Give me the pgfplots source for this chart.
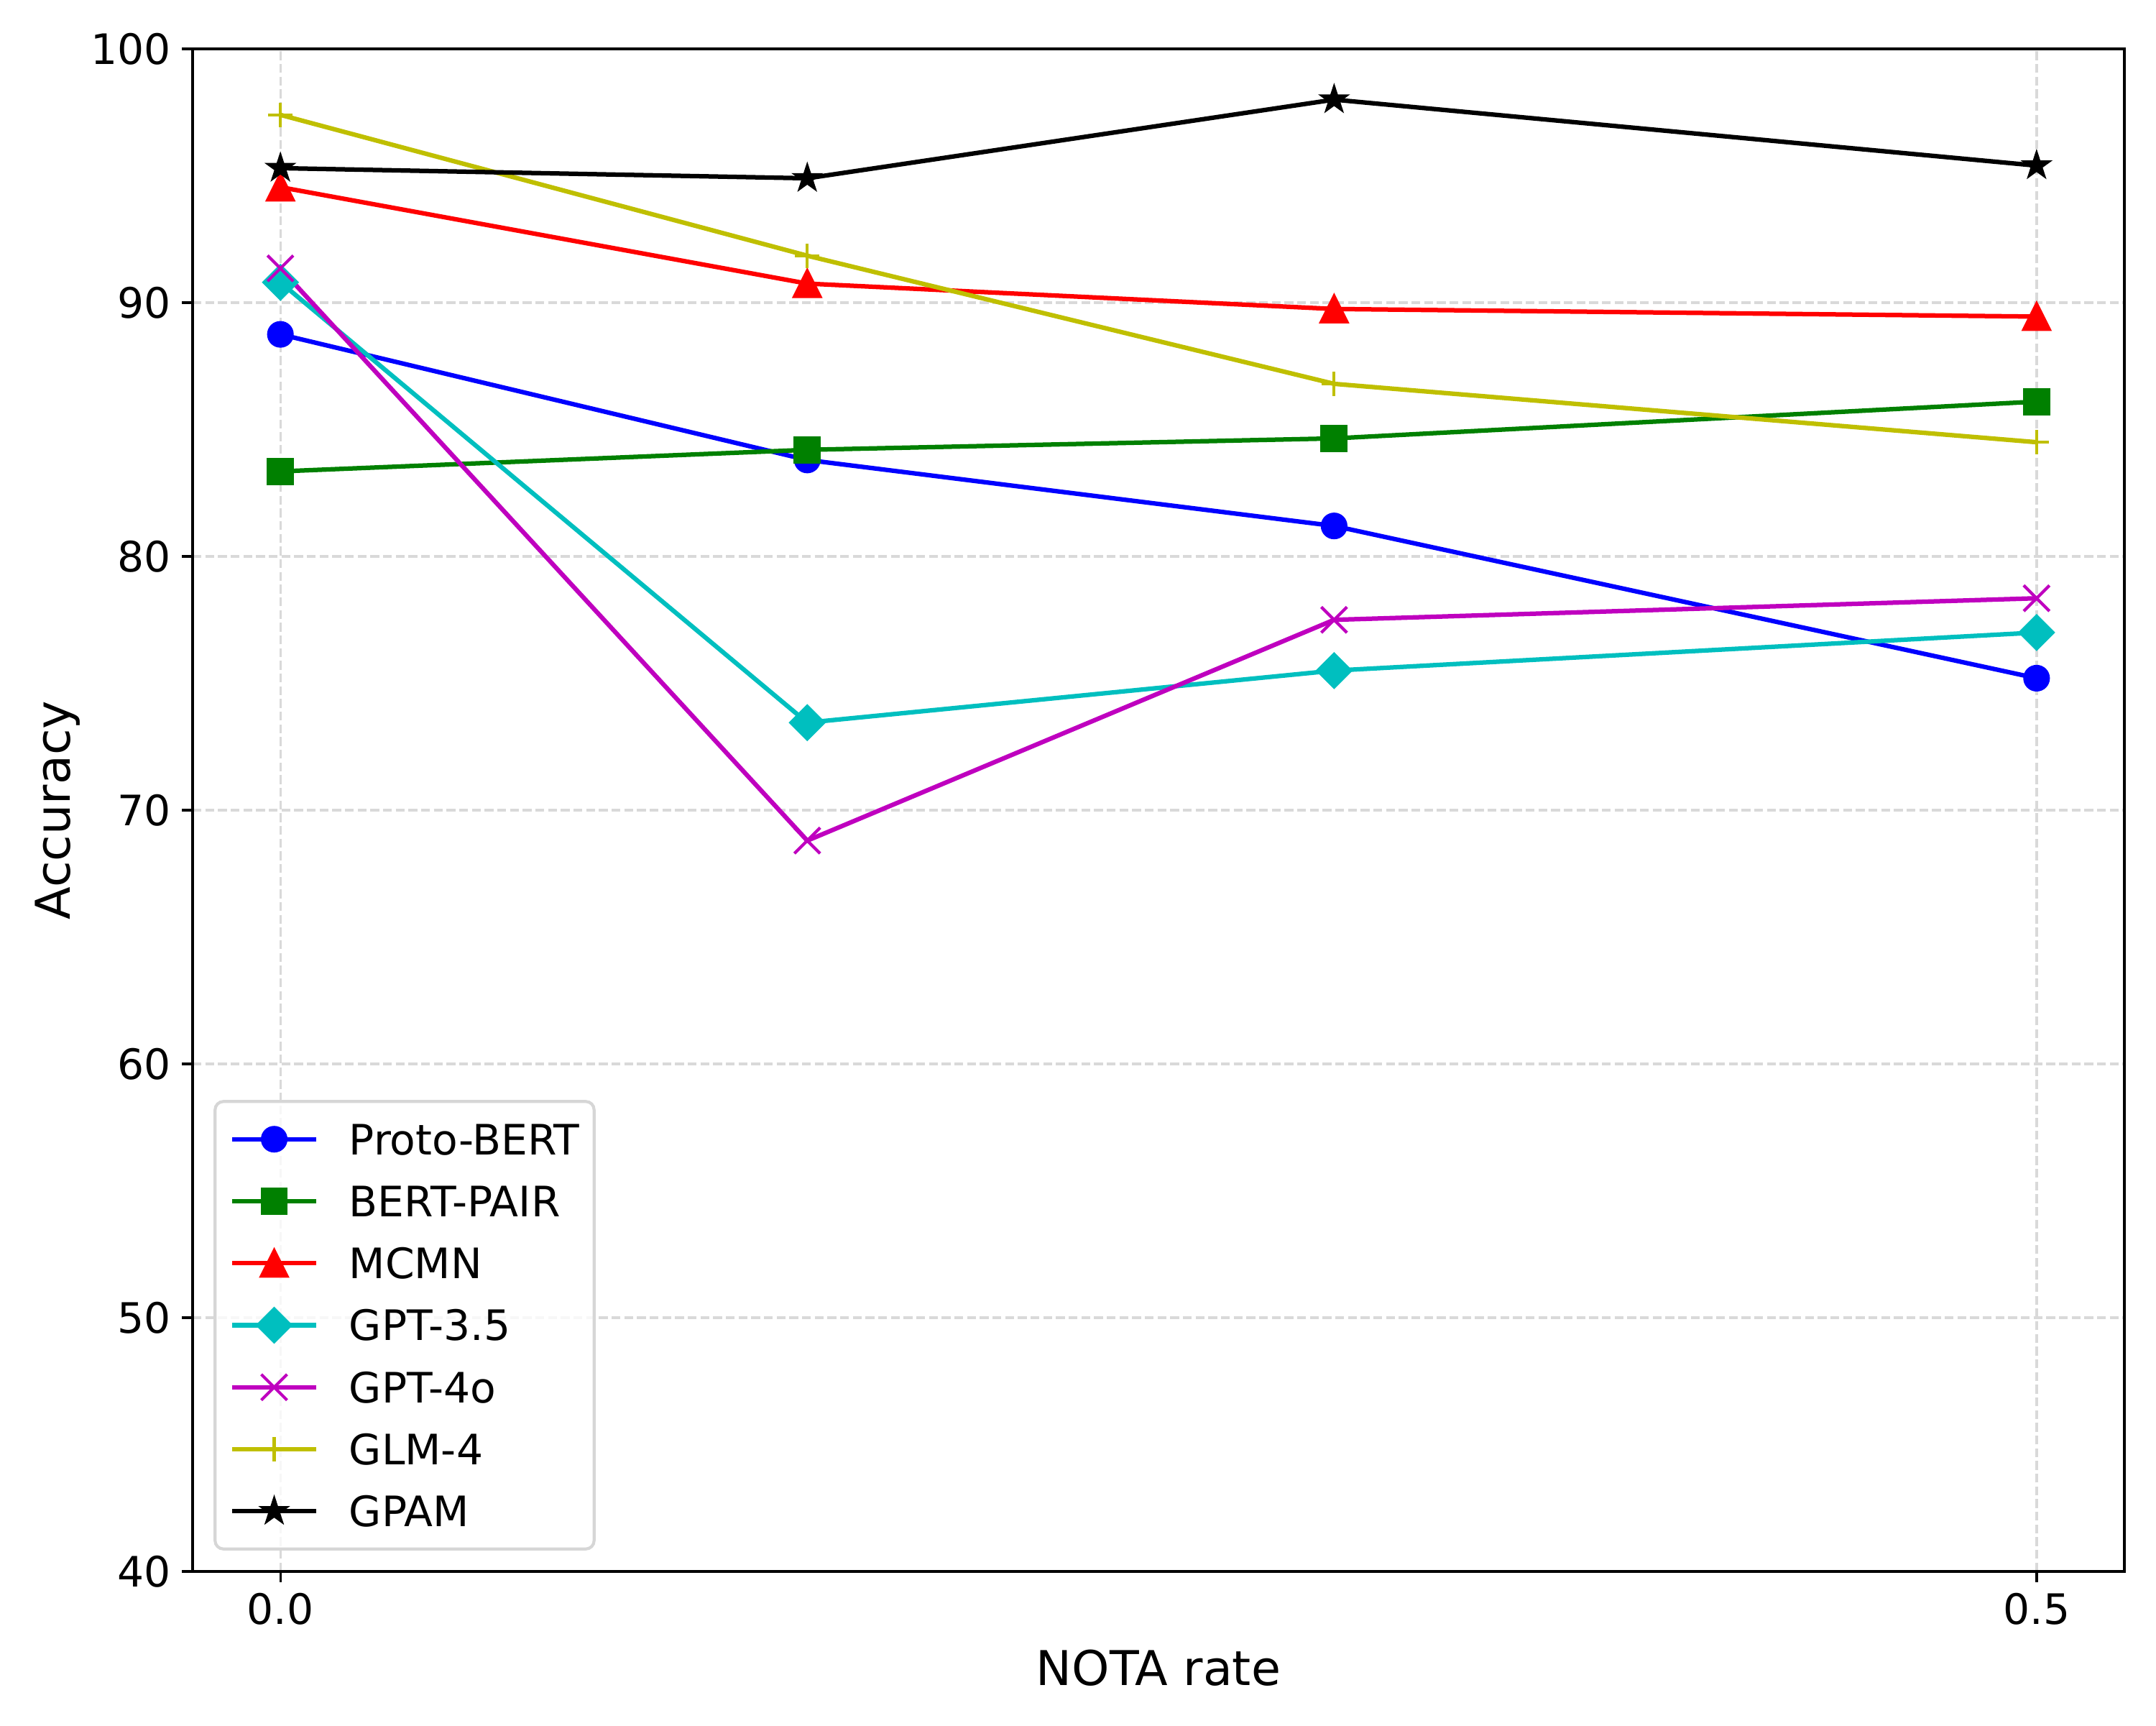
\documentclass[border=0pt]{standalone}
\usepackage{fontspec}
\setmainfont{DejaVu Sans}
\usepackage{pgfplots}
\pgfplotsset{compat=1.18}
\definecolor{mb}{rgb}{0,0,1}
\definecolor{mg}{rgb}{0,0.5,0}
\definecolor{mr}{rgb}{1,0,0}
\definecolor{mc}{rgb}{0,0.75,0.75}
\definecolor{mm}{rgb}{0.75,0,0.75}
\definecolor{my}{rgb}{0.75,0.75,0}
\definecolor{gridc}{rgb}{0.85,0.85,0.85}
\definecolor{legc}{rgb}{0.84,0.84,0.84}
\pgfdeclareplotmark{mtri}{%
  \pgfpathmoveto{\pgfqpoint{0pt}{\pgfplotmarksize}}%
  \pgfpathlineto{\pgfqpoint{-\pgfplotmarksize}{-\pgfplotmarksize}}%
  \pgfpathlineto{\pgfqpoint{\pgfplotmarksize}{-\pgfplotmarksize}}%
  \pgfpathclose\pgfusepathqfillstroke}
\pgfdeclareplotmark{mdiam}{%
  \pgfpathmoveto{\pgfqpoint{0pt}{\pgfplotmarksize}}%
  \pgfpathlineto{\pgfqpoint{-\pgfplotmarksize}{0pt}}%
  \pgfpathlineto{\pgfqpoint{0pt}{-\pgfplotmarksize}}%
  \pgfpathlineto{\pgfqpoint{\pgfplotmarksize}{0pt}}%
  \pgfpathclose\pgfusepathqfillstroke}
\pgfdeclareplotmark{mx}{%
  \pgfpathmoveto{\pgfqpoint{-\pgfplotmarksize}{-\pgfplotmarksize}}%
  \pgfpathlineto{\pgfqpoint{\pgfplotmarksize}{\pgfplotmarksize}}%
  \pgfpathmoveto{\pgfqpoint{-\pgfplotmarksize}{\pgfplotmarksize}}%
  \pgfpathlineto{\pgfqpoint{\pgfplotmarksize}{-\pgfplotmarksize}}%
  \pgfusepathqstroke}
\pgfdeclareplotmark{mstar}{%
  \pgfpathmoveto{\pgfqpoint{0pt}{\pgfplotmarksize}}%
  \pgfpathlineto{\pgfqpoint{-0.2245\pgfplotmarksize}{0.309\pgfplotmarksize}}%
  \pgfpathlineto{\pgfqpoint{-0.951\pgfplotmarksize}{0.309\pgfplotmarksize}}%
  \pgfpathlineto{\pgfqpoint{-0.3633\pgfplotmarksize}{-0.118\pgfplotmarksize}}%
  \pgfpathlineto{\pgfqpoint{-0.588\pgfplotmarksize}{-0.809\pgfplotmarksize}}%
  \pgfpathlineto{\pgfqpoint{0pt}{-0.382\pgfplotmarksize}}%
  \pgfpathlineto{\pgfqpoint{0.588\pgfplotmarksize}{-0.809\pgfplotmarksize}}%
  \pgfpathlineto{\pgfqpoint{0.3633\pgfplotmarksize}{-0.118\pgfplotmarksize}}%
  \pgfpathlineto{\pgfqpoint{0.951\pgfplotmarksize}{0.309\pgfplotmarksize}}%
  \pgfpathlineto{\pgfqpoint{0.2245\pgfplotmarksize}{0.309\pgfplotmarksize}}%
  \pgfpathclose\pgfusepathqfillstroke}
\begin{document}
\begin{tikzpicture}
\path[use as bounding box] (-64.32pt,-51.36pt) rectangle (655.68pt,524.64pt);
\begin{axis}[
  at={(0pt,0pt)}, anchor=south west,
  scale only axis, width=645.12pt, height=508.32pt,
  xmin=-0.025, xmax=0.525, ymin=40, ymax=100,
  xtick={0,0.5}, ytick={40,50,60,70,80,90,100},
  /pgf/number format/assume math mode=true,
  xticklabel style={/pgf/number format/.cd, fixed, fixed zerofill, precision=1},
  tick pos=left, tick align=outside,
  major tick length=3.5pt,
  major tick style={line width=0.8pt, black},
  axis line style={line width=0.8pt},
  tick label style={font=\fontsize{14}{16.8}\selectfont, inner sep=0pt},
  ticklabel shift=3.5pt,
  grid=major,
  major grid style={gridc, line width=0.8pt, dash pattern=on 2.96pt off 1.28pt},
  xlabel={NOTA rate}, ylabel={Accuracy},
  label style={font=\fontsize{16}{19.2}\selectfont},
  xlabel style={at={(axis description cs:0.5,-0.05096)}, anchor=north, inner sep=0pt},
  ylabel style={at={(axis description cs:-0.0634,0.5)}, anchor=base, inner sep=0pt},
  legend cell align=left,
  legend image code/.code={\draw[sharp corners, fill opacity=1, mark repeat=2, mark phase=2, #1] plot coordinates {(0pt,0pt) (14pt,0pt) (28pt,0pt)};},
  legend style={
    at={(axis description cs:0,0)}, anchor=south west, xshift=7pt, yshift=7pt,
    draw=legc, line width=1pt, rounded corners=2.8pt, fill=white, fill opacity=0.8, text opacity=1,
    inner xsep=5pt, inner ysep=5.7pt,
    row sep=6.9pt, column sep=10.3pt,
    font=\fontsize{14}{16.8}\selectfont,
    nodes={inner sep=0pt, text height=12pt, text depth=1.8pt},
  },
]
\addplot[color=mb, line width=1.5pt, mark=*, mark size=3.95pt, mark options={solid, line width=1pt}]
  coordinates {(0,88.75) (0.15,83.8) (0.3,81.2) (0.5,75.2)};
\addlegendentry{Proto-BERT}
\addplot[color=mg, line width=1.5pt, mark=square*, mark size=4.05pt, mark options={solid, line width=1pt}]
  coordinates {(0,83.35) (0.15,84.2) (0.3,84.65) (0.5,86.1)};
\addlegendentry{BERT-PAIR}
\addplot[color=mr, line width=1.5pt, mark=mtri, mark size=4.3pt, mark options={solid, line width=1pt}]
  coordinates {(0,94.55) (0.15,90.75) (0.3,89.75) (0.5,89.45)};
\addlegendentry{MCMN}
\addplot[color=mc, line width=1.5pt, mark=mdiam, mark size=5.5pt, mark options={solid, line width=1pt}]
  coordinates {(0,90.8) (0.15,73.45) (0.3,75.5) (0.5,77.0)};
\addlegendentry{GPT-3.5}
\addplot[color=mm, line width=1.5pt, mark=mx, mark size=4.3pt, mark options={solid, line width=1pt}]
  coordinates {(0,91.35) (0.15,68.8) (0.3,77.5) (0.5,78.35)};
\addlegendentry{GPT-4o}
\addplot[color=my, line width=1.5pt, mark=+, mark size=4.1pt, mark options={solid, line width=1pt}]
  coordinates {(0,97.4) (0.15,91.85) (0.3,86.8) (0.5,84.5)};
\addlegendentry{GLM-4}
\addplot[color=black, line width=1.5pt, mark=mstar, mark size=4.0pt, mark options={solid, line width=1pt}]
  coordinates {(0,95.3) (0.15,94.9) (0.3,98.0) (0.5,95.4)};
\addlegendentry{GPAM}
\end{axis}
\end{tikzpicture}
\end{document}
